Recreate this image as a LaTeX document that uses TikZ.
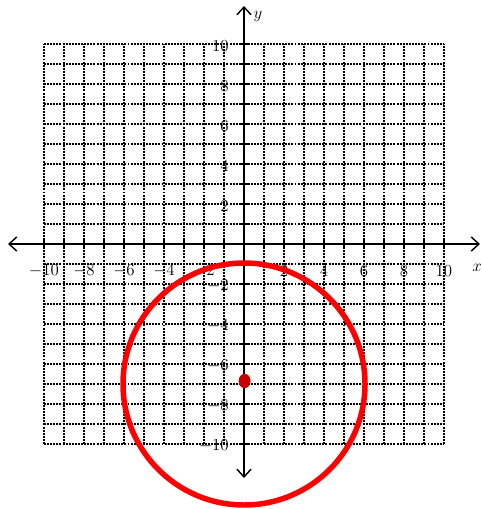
\documentclass[tikz,border=0pt]{standalone}
\usetikzlibrary{arrows.meta,shapes.geometric}
\begin{document}
\begin{tikzpicture}[x=0.5cm,y=0.5cm,
  gridline/.style={line width=1.5pt,dash pattern=on 1.4pt off 0.8pt,black},
  axisline/.style={line width=1pt,black,{Straight Barb[length=5.5pt,width=10pt]}-{Straight Barb[length=5.5pt,width=10pt]}},
  tickline/.style={line width=1.6pt,black},
  ticklab/.style={font=\large,inner sep=0pt},
  curve/.style={draw=red,line width=3.9pt},
  centerdot/.style={fill=red!78!black,draw=none}]
\useasboundingbox (-12.2,-13.25) rectangle (11.85,12.2);
\draw[gridline,step=0.5cm] (-10,-10) grid (10,10);
\coordinate (xl) at (-11.8,0);
\coordinate (xr) at (11.8,0);
\coordinate (yb) at (0,-11.7);
\coordinate (yt) at (0,11.9);
\draw[axisline] (xl) -- (xr);
\draw[axisline] (yb) -- (yt);
\foreach \i in {-10,...,-1,1,2,...,10}{
  \draw[tickline] (\i,-0.25) -- (\i,0.25);
  \draw[tickline] (-0.25,\i) -- (0.3,\i);
}
\foreach \i in {-10,-8,-6,-4,-2,2,4,6,8,10}{
  \node[ticklab] (xlab\i) at (\i,-1.35) {$\i$};
  \node[ticklab,anchor=east] (ylab\i) at (-0.75,\i-0.1) {$\i$};
}
\node[ticklab] (xname) at (11.65,-1.2) {$x$};
\node[ticklab] (yname) at (0.7,11.35) {$y$};
\node[curve,circle,minimum size=6.05cm,inner sep=0pt] (circ) at (0,-7) {};
\node[centerdot,ellipse,minimum width=0.3cm,minimum height=0.36cm,inner sep=0pt] (ctr) at (0.03,-6.85) {};
\end{tikzpicture}
\end{document}
